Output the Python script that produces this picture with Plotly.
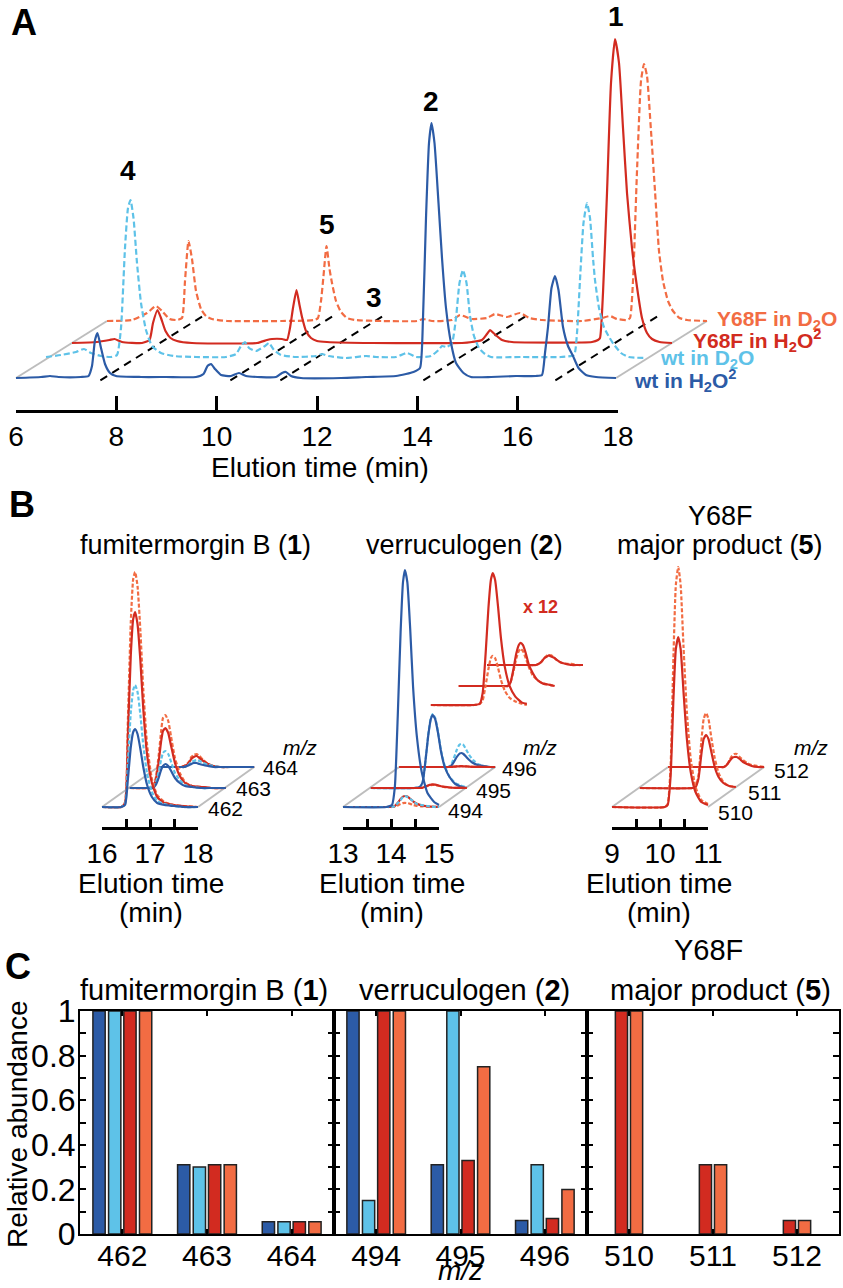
import plotly.graph_objects as go

W, H = 843, 1288
def fx(px): return px / W
def fy(py): return 1 - py / H

FONT = "Liberation Sans, Arial, sans-serif"
COLORS = {"wtH": "#2C5BA6", "wtD": "#5EC2E8", "mtH": "#D22B20", "mtD": "#F26C43"}
DASH = {"wtH": "solid", "wtD": "dash", "mtH": "solid", "mtD": "dash"}
LABELS = {"wtH": "wt in H<sub>2</sub>O<sup>2</sup>", "wtD": "wt in D<sub>2</sub>O",
          "mtH": "Y68F in H<sub>2</sub>O<sup>2</sup>", "mtD": "Y68F in D<sub>2</sub>O"}

# ---------------- Panel A data: (time min, height) ----------------
A_wtH = [(6.0,0),(6.5,1),(6.68,2),(6.85,1),(7.3,1),(7.45,2),(7.52,12),(7.58,38),(7.63,45),(7.7,30),
         (7.78,14),(7.88,5),(8.0,2),(8.5,1),(9.0,1),(9.6,1),(9.75,4),(9.83,12),(9.9,14),(9.98,9),
         (10.1,3),(10.3,2),(10.46,5),(10.6,2),(11.2,1),(11.32,5),(11.4,6),(11.5,2),(11.7,0),(12.5,0),
         (13.0,1),(13.6,2),(13.8,4),(13.95,6),(14.08,10),(14.14,60),(14.2,160),(14.26,235),(14.31,255),
         (14.37,235),(14.45,175),(14.52,120),(14.6,70),(14.7,35),(14.8,15),(14.95,5),(15.1,1),(15.5,1),
         (16.0,2),(16.4,2),(16.52,3),(16.58,25),(16.64,51),(16.71,90),(16.78,102),(16.85,88),(16.94,51),
         (17.04,32),(17.14,22),(17.25,10),(17.4,3),(17.6,1),(18.0,0)]
A_wtD = [(6.0,1),(6.3,3),(6.6,6),(6.76,9),(6.9,5),(7.1,2),(7.3,1),(7.42,3),(7.5,30),(7.58,110),
         (7.64,150),(7.69,158),(7.75,140),(7.82,95),(7.9,55),(8.0,28),(8.12,12),(8.3,5),(8.55,2),(9.0,1),
         (9.6,1),(9.8,4),(9.9,12),(9.98,16),(10.06,10),(10.2,7),(10.38,12),(10.46,15),(10.56,8),(10.7,3),
         (11.0,1),(11.4,2),(11.52,4),(11.65,2),(12.0,0),(12.4,2),(12.6,1),(13.0,1),(13.22,5),(13.4,1),
         (13.7,2),(13.85,8),(13.92,12),(14.02,11),(14.12,15),(14.2,40),(14.27,75),(14.34,88),(14.41,75),
         (14.48,42),(14.56,22),(14.66,10),(14.78,4),(14.9,1),(15.5,1),(16.3,1),(16.56,3),(16.62,25),
         (16.68,78),(16.75,135),(16.82,155),(16.88,140),(16.94,100),(16.98,78),(17.06,50),(17.15,32),
         (17.25,22),(17.35,14),(17.5,5),(17.65,1),(18.0,0)]
A_mtH = [(6.0,0),(6.5,1),(6.75,3),(6.85,4),(7.0,1),(7.4,0),(7.55,3),(7.62,20),(7.71,33),(7.78,25),
         (7.87,12),(7.97,5),(8.1,2),(8.4,0),(9.7,0),(9.9,3),(10.0,4),(10.2,4),(10.3,3),(10.36,15),
         (10.42,35),(10.49,53),(10.55,38),(10.6,26),(10.68,12),(10.78,5),(10.9,2),(11.1,1),(12.0,0),
         (13.8,0),(14.0,1),(14.2,3),(14.3,9),(14.36,13),(14.45,9),(14.6,3),(14.8,1),(16.4,1),(16.52,3),
         (16.56,5),(16.62,50),(16.7,150),(16.78,260),(16.86,304),(16.94,280),(17.02,215),(17.1,150),
         (17.2,95),(17.3,56),(17.4,25),(17.5,10),(17.6,4),(17.75,1),(18.0,0)]
A_mtD = [(6.0,0),(6.5,1),(6.8,8),(6.98,15),(7.1,10),(7.25,2),(7.4,1),(7.5,3),(7.56,40),(7.63,80),
         (7.7,62),(7.78,30),(7.88,12),(7.98,5),(8.1,2),(8.4,0),(9.5,0),(10.15,1),(10.22,3),(10.28,20),
         (10.33,45),(10.39,75),(10.45,52),(10.5,38),(10.58,20),(10.68,9),(10.8,3),(10.95,1),(11.5,0),
         (12.2,0),(12.32,2),(12.5,0),(12.9,1),(13.06,6),(13.3,2),(13.6,3),(13.76,7),(14.0,4),(14.26,8),
         (14.45,3),(14.7,1),(15.5,0),(15.9,3),(16.06,5),(16.2,2),(16.4,1),(16.46,3),(16.52,40),(16.6,150),
         (16.68,240),(16.74,257),(16.8,245),(16.88,190),(16.96,130),(17.04,70),(17.12,40),(17.22,20),
         (17.32,10),(17.45,3),(17.6,1),(18.0,0)]
A_traces = {"wtH": A_wtH, "wtD": A_wtD, "mtH": A_mtH, "mtD": A_mtD}
A_ticks = [6, 8, 10, 12, 14, 16, 18]
A_marks = [7.76, 10.36, 11.36, 14.22, 16.86]          # dashed guide lines
A_labels = ["1", "2", "3", "4", "5"]

# ---------------- Panel B data ----------------
B1_t = [16.0,16.4,16.48,16.54,16.6,16.65,16.69,16.74,16.8,16.86,16.94,17.04,17.15,17.3,17.5,17.7,18.0]
B1_mz = ["462", "463", "464"]
B1 = {
 "462": {"wtH": [0,0,2,28,60,75,78,73,58,40,22,10,4,2,1,0,0],
         "wtD": [0,0,3,44,95,117,122,115,92,62,33,15,6,3,1,0,0],
         "mtH": [0,0,4,72,152,188,195,183,146,98,52,24,10,4,2,1,0],
         "mtD": [0,0,5,88,185,228,235,221,176,118,62,28,12,5,2,1,0]},
 "463": {"wtH": [0,0,0,3,10,18,22,24,22,17,10,5,2,1,0,0,0],
         "wtD": [0,0,0,5,16,28,35,37,34,26,15,8,3,1,0,0,0],
         "mtH": [0,0,1,8,26,46,57,60,55,42,25,12,5,2,1,0,0],
         "mtD": [0,0,1,10,32,56,70,73,67,51,30,15,6,2,1,0,0]},
 "464": {"wtH": [0,0,0,0,1,2,3,4,4,3,2,1,0,0,0,0,0],
         "wtD": [0,0,0,0,1,3,5,6,7,6,4,2,1,0,0,0,0],
         "mtH": [0,0,0,1,2,5,8,10,11,9,6,3,1,0,0,0,0],
         "mtD": [0,0,0,1,3,6,10,12,13,11,7,3,1,0,0,0,0]},
}
B2_t = [13.0,13.9,14.02,14.08,14.14,14.2,14.25,14.29,14.34,14.4,14.46,14.54,14.64,14.76,14.9,15.0]
B2_mz = ["494", "495", "496"]
B2 = {
 "494": {"wtH": [0,0,2,20,90,175,225,237,225,178,120,70,35,14,5,2],
         "wtD": [0,0,0,1,4,7,10,11,10,8,6,3,2,1,0,0],
         "mtH": [0,0,0.1,1.0,4.2,8.1,10.4,11.0,10.4,8.2,5.6,3.2,1.6,0.7,0.2,0.1],
         "mtD": [0,0,0.1,0.4,1.6,3.0,3.9,4.1,3.9,3.1,2.1,1.2,0.6,0.3,0.1,0]},
 "495": {"wtH": [0,0,1,6,28,54,69,73,69,55,37,21,11,4,1,0],
         "wtD": [0,0,1,6,28,55,70,74,70,56,38,22,11,5,2,1],
         "mtH": [0,0,0,0.3,1.4,2.7,3.4,3.6,3.4,2.7,1.8,1.1,0.5,0.2,0.1,0],
         "mtD": [0,0,0,0.3,1.2,2.3,2.9,3.1,2.9,2.3,1.6,0.9,0.5,0.2,0.1,0]},
 "496": {"wtH": [0,0,0,1,5,10,13,14,13,10,7,4,2,1,0,0],
         "wtD": [0,0,0,2,9,17,22,23,22,17,12,7,3,1,0,0],
         "mtH": [0,0,0,0.1,0.3,0.6,0.7,0.8,0.7,0.6,0.4,0.2,0.1,0,0,0],
         "mtD": [0,0,0,0.1,0.3,0.6,0.8,0.8,0.8,0.6,0.4,0.2,0.1,0.1,0,0]},
}
B2_inset_gain = 12
B3_t = [9.0,10.1,10.16,10.22,10.28,10.33,10.38,10.43,10.49,10.56,10.64,10.74,10.86,11.0]
B3_mz = ["510", "511", "512"]
B3 = {
 "510": {"mtH": [0,0,2,30,108,158,170,158,115,68,35,15,5,2],
         "mtD": [0,0,3,40,150,222,240,222,160,95,48,20,7,3]},
 "511": {"mtH": [0,0,1,9,33,49,53,49,36,21,11,5,2,1],
         "mtD": [0,0,1,12,46,69,75,69,50,30,15,6,2,1]},
 "512": {"mtH": [0,0,0,2,6,9,10,10,8,5,3,1,0,0],
         "mtD": [0,0,0,2,7,11,13,13,10,7,4,2,1,0]},
}

# ---------------- Panel C data ----------------
C_fum_mz = ["462", "463", "464"]
C_fum = {"wtH": [1.0, 0.31, 0.055], "wtD": [1.0, 0.30, 0.055],
         "mtH": [1.0, 0.31, 0.055], "mtD": [1.0, 0.31, 0.055]}
C_ver_mz = ["494", "495", "496"]
C_ver = {"wtH": [1.0, 0.31, 0.06], "wtD": [0.15, 1.0, 0.31],
         "mtH": [1.0, 0.33, 0.07], "mtD": [1.0, 0.75, 0.20]}
C_maj_mz = ["510", "511", "512"]
C_maj = {"mtH": [1.0, 0.31, 0.06], "mtD": [1.0, 0.31, 0.06]}
C_yticks = [0, 0.2, 0.4, 0.6, 0.8, 1.0]
C_ytext = ["0", "0.2", "0.4", "0.6", "0.8", "1"]

fig = go.Figure()

def line(x, y, color, dash, xa, ya, width=2.2, shape="spline"):
    fig.add_trace(go.Scatter(x=x, y=y, mode="lines",
                             line=dict(color=color, width=width, dash=dash, shape=shape, smoothing=0.5),
                             xaxis=xa, yaxis=ya, hoverinfo="skip", showlegend=False))

def ghost(x, xa, ya):
    fig.add_trace(go.Scatter(x=x, y=[0, 0], mode="markers", opacity=0, xaxis=xa, yaxis=ya,
                             hoverinfo="skip", showlegend=False))

GREY = "#BDBDBD"
A_off = {"wtH": (0.0, 32), "wtD": (0.6, 52), "mtH": (1.12, 67), "mtD": (1.82, 89)}
order_back = ["mtD", "mtH", "wtD", "wtH"]
order_wt_first = ["wtD", "wtH", "mtD", "mtH"]

# ----- Panel A -----
t0, t1 = A_ticks[0], A_ticks[-1]
dxm, dym = A_off["mtD"]
b0 = A_off["wtH"][1]
for tt in (t0, t1):
    line([tt, tt + dxm], [b0, dym], GREY, "solid", "x", "y", width=2, shape="linear")
for tm in A_marks:
    s0, s1 = -0.04, 1.1
    line([tm + s0 * dxm, tm + s1 * dxm], [b0 + s0 * (dym - b0), b0 + s1 * (dym - b0)],
         "black", "8px,6px", "x", "y", width=2, shape="linear")
for k in order_back:
    dx, base = A_off[k]
    pts = A_traces[k]
    line([p[0] + dx for p in pts], [base + p[1] for p in pts], COLORS[k],
         "6px,3px" if DASH[k] == "dash" else "solid", "x", "y", width=2.2)
ghost([t0, t1], "x2", "y")

# ----- Panel B -----
B_dx = [0.0, 0.58, 1.17]
B_dy = [20, 39, 60]

def b_panel(tgrid, mzs, data, xa, orders):
    lo, hi = tgrid[0], tgrid[-1]
    for tt in (lo, hi):
        line([tt, tt + B_dx[2]], [B_dy[0], B_dy[2]], GREY, "solid", xa, "y2", width=2, shape="linear")
    for i in (2, 1, 0):
        mz = mzs[i]
        for k in orders[i]:
            if k not in data[mz]:
                continue
            line([t + B_dx[i] for t in tgrid], [B_dy[i] + v for v in data[mz][k]], COLORS[k],
                 "4px,2px" if DASH[k] == "dash" else "solid", xa, "y2", width=2.2)

b_panel(B1_t, B1_mz, B1, "x3", [order_back] * 3)
ghost([16, 18], "x4", "y2")
b_panel(B2_t, B2_mz, B2, "x5", [order_back, order_wt_first, order_wt_first])
ghost([13, 15], "x6", "y2")
# x12 inset of Y68F traces
inset_dx, inset_dy = 1.83, 102
for i in (2, 1, 0):
    mz = B2_mz[i]
    for k in ["mtD", "mtH"]:
        line([t + B_dx[i] + inset_dx for t in B2_t],
             [B_dy[i] + inset_dy + B2_inset_gain * v for v in B2[mz][k]], COLORS[k],
             "4px,2px" if DASH[k] == "dash" else "solid", "x5", "y2", width=2.2)
b_panel(B3_t, B3_mz, B3, "x7", [["mtD", "mtH"]] * 3)
ghost([9, 11], "x8", "y2")

# ----- Panel C -----
BW = 0.145
centers4 = [-0.275, -0.09, 0.09, 0.275]
centers2 = [-0.09, 0.09]
def c_bars(mz, data, keys, centers, xa, ya):
    for k, c in zip(keys, centers):
        fig.add_trace(go.Bar(x=mz, y=data[k], width=BW, offset=c - BW / 2,
                             marker=dict(color=COLORS[k], line=dict(color="#222222", width=1.5)),
                             xaxis=xa, yaxis=ya, hoverinfo="skip", showlegend=False))
c_bars(C_fum_mz, C_fum, ["wtH", "wtD", "mtH", "mtD"], centers4, "x9", "y3")
c_bars(C_ver_mz, C_ver, ["wtH", "wtD", "mtH", "mtD"], centers4, "x10", "y4")
c_bars(C_maj_mz, C_maj, ["mtH", "mtD"], centers2, "x11", "y5")

# ---------------- Layout ----------------
hidden = dict(visible=False, fixedrange=True, automargin=False)
def tick_axis(dom, rng, tv, anchor, ticklen, size, minor_dt=None):
    d = dict(domain=[fx(dom[0]), fx(dom[1])], range=rng, anchor=anchor, showline=True,
             linecolor="black", linewidth=2.5, ticks="inside", ticklen=ticklen, tickwidth=2.5,
             tickcolor="black", tickvals=tv, ticktext=[str(v) for v in tv], showgrid=False, zeroline=False,
             automargin=False, tickfont=dict(family=FONT, size=size, color="black"), fixedrange=True)
    if minor_dt:
        d["minor"] = dict(tick0=rng[0], dtick=minor_dt, ticks="inside", ticklen=ticklen,
                          tickwidth=2.5, tickcolor="black", showgrid=False)
    return d

def brange(t0px, tval, dom):
    return [tval - (t0px - dom[0]) / 48.0, tval + (dom[1] - t0px) / 48.0]

layout = dict(
    template="none",
    width=W, height=H, margin=dict(l=0, r=0, t=0, b=0, pad=0), autosize=False,
    paper_bgcolor="white", plot_bgcolor="rgba(0,0,0,0)", barmode="overlay",
    font=dict(family=FONT, color="black"),
    xaxis=dict(domain=[0, 1], range=[6 - 16 / 50, 6 + (W - 16) / 50], anchor="y", **hidden),
    yaxis=dict(domain=[fy(410), 1], range=[0, 410], anchor="x", **hidden),
    xaxis2=tick_axis((16, 618), [6, 18], A_ticks, "y", 14, 28),
    yaxis2=dict(domain=[fy(827), fy(555)], range=[0, 272], anchor="x3", **hidden),
    xaxis3=dict(domain=[fx(60), fx(310)], range=brange(102, 16, (60, 310)), anchor="y2", **hidden),
    xaxis4=tick_axis((102, 198), [16, 18], [16, 17, 18], "y2", 8, 28, 0.5),
    xaxis5=dict(domain=[fx(320), fx(600)], range=brange(343, 13, (320, 600)), anchor="y2", **hidden),
    xaxis6=tick_axis((343, 439), [13, 15], [13, 14, 15], "y2", 8, 28, 0.5),
    xaxis7=dict(domain=[fx(600), fx(843)], range=brange(612, 9, (600, 843)), anchor="y2", **hidden),
    xaxis8=tick_axis((612, 708), [9, 11], [9, 10, 11], "y2", 8, 28, 0.5),
)
c_doms = [(80, 334), (334, 587), (587, 839)]
c_mz = [C_fum_mz, C_ver_mz, C_maj_mz]
for j, (dom, mzs) in enumerate(zip(c_doms, c_mz)):
    xa, ya = 9 + j, 3 + j
    layout[f"xaxis{xa}"] = dict(domain=[fx(dom[0]), fx(dom[1])], anchor=f"y{ya}", type="category",
                                range=[-0.5, 2.5], showline=True, linecolor="black", linewidth=2,
                                mirror="ticks", ticks="inside", ticklen=5, tickwidth=2, tickcolor="black",
                                tickvals=mzs, ticktext=mzs, showgrid=False, fixedrange=True, automargin=False,
                                ticklabelstandoff=-6,
                                tickfont=dict(family=FONT, size=30, color="black"))
    layout[f"yaxis{ya}"] = dict(domain=[fy(1234), fy(1011)], anchor=f"x{xa}", range=[0, 1],
                                showline=True, linecolor="black", linewidth=2, mirror="ticks",
                                ticks="inside", ticklen=6, tickwidth=2, tickcolor="black",
                                tickvals=C_yticks, ticktext=C_ytext, ticklabelstandoff=-4,
                                minor=dict(tick0=0, dtick=0.1, ticks="inside", ticklen=6, tickwidth=2,
                                           tickcolor="black", showgrid=False),
                                showticklabels=(j == 0), showgrid=False, zeroline=False, fixedrange=True,
                                automargin=False, tickfont=dict(family=FONT, size=32, color="black"))

anns = []
def ann(text, px, py, size, color="black", xanchor="center", angle=0, yanchor="middle"):
    anns.append(dict(text=text, x=fx(px), y=fy(py), xref="paper", yref="paper", showarrow=False,
                     xanchor=xanchor, yanchor=yanchor, textangle=angle,
                     font=dict(family=FONT, size=size, color=color)))

# Panel A texts
ann("<b>A</b>", 24, 0, 36, yanchor="top")
for lab, (px, py) in zip(A_labels, [(616, 16), (431, 102), (374, 298), (128, 170), (327, 224)]):
    ann(f"<b>{lab}</b>", px, py, 28)
ann("Elution time (min)", 320, 468, 28)
for k, (px, py) in zip(["mtD", "mtH", "wtD", "wtH"], [(715, 320), (691, 340), (658, 359), (632, 381)]):
    ann(f"<b>{LABELS[k]}</b>", px, py, 21, color=COLORS[k], xanchor="left")

# Panel B texts
ann("<b>B</b>", 22, 505, 36)
ann("fumitermorgin B (<b>1</b>)", 195, 545, 27)
ann("verruculogen (<b>2</b>)", 464, 545, 27)
ann("Y68F", 720, 516, 27)
ann("major product (<b>5</b>)", 720, 545, 27)
ann("<b>x 12</b>", 540, 607, 18, color=COLORS["mtH"])
for cx in (151, 392, 659):
    ann("Elution time", cx, 883, 28)
    ann("(min)", cx, 912, 28)
for mzs, xs, ys, mzx in [(B1_mz, [206, 234, 261], [808, 788, 767], 300),
                         (B2_mz, [446, 474, 500], [810, 790, 768], 540),
                         (B3_mz, [716, 746, 772], [812, 792, 770], 811)]:
    for m, x_, y_ in zip(mzs, xs, ys):
        ann(m, x_, y_, 21, xanchor="left")
    ann("<i>m/z</i>", mzx, 747, 21)

# Panel C texts
ann("<b>C</b>", 18, 966, 36)
ann("fumitermorgin B (<b>1</b>)", 204, 990, 29)
ann("verruculogen (<b>2</b>)", 464, 990, 29)
ann("Y68F", 708, 950, 29)
ann("major product (<b>5</b>)", 720, 990, 29)
ann("Relative abundance", 17, 1124, 28, angle=-90)
ann("<i>m/z</i>", 460, H, 28, yanchor="bottom")

layout["annotations"] = anns
fig.update_layout(**layout)
fig.write_html("out.html", config={"displayModeBar": False},
               post_script="document.body.style.margin='0px';")
